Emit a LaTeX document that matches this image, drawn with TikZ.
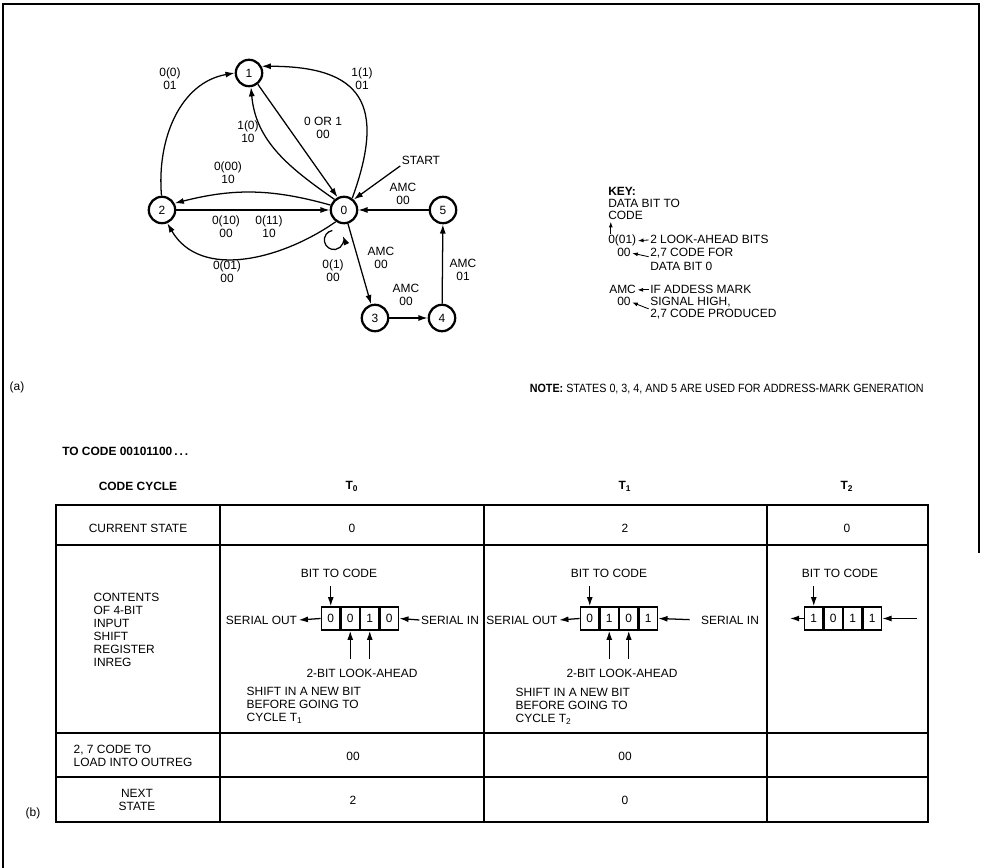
\documentclass[tikz,border=0pt]{standalone}
\usepackage{fontspec}
\setmainfont{Liberation Sans}
\newfontfamily\narrowfont[FakeStretch=0.9]{Liberation Sans}
\usetikzlibrary{arrows.meta,positioning}
\newcommand{\dgfont}{\fontsize{8.5}{9.2}\selectfont}

\begin{document}
\begin{tikzpicture}[x=0.025cm,y=0.025cm,
    state/.style={draw,circle,line width=1.6pt,minimum size=0.66cm,inner sep=0pt,font=\dgfont},
    lbl/.style={align=center,inner sep=1pt,font=\dgfont},
    txt/.style={anchor=base west,inner sep=0pt,font=\dgfont},
    hdr/.style={inner sep=1pt,font=\dgfont\bfseries},
    arrow/.style={-{Latex[length=2.3mm,width=1.5mm]},line width=0.9pt},
    karrow/.style={-{Latex[length=1.4mm,width=1mm]},line width=0.6pt,shorten <=1pt,shorten >=1pt},
    cell/.style={draw,line width=1.1pt,minimum width=0.465cm,minimum height=0.575cm,inner sep=0pt,font=\dgfont},
    tline/.style={line width=1.5pt}
  ]
  \useasboundingbox (0,0) rectangle (981,868);
  % frame
  \draw[line width=0.8pt] (3,0) -- (3,864) -- (979,864) -- (979,315);

  % (a) state diagram
  \node[state] (n1) at (249,795) {1};
  \node[state] (n2) at (162,658) {2};
  \node[state] (n0) at (344,658) {0};
  \node[state] (n5) at (443,658) {5};
  \node[state] (n3) at (375,550) {3};
  \node[state] (n4) at (442,550) {4};
  \draw[arrow] (n2.92) to[out=95,in=190] (n1.west);
  \draw[arrow] (n0.55) to[out=70,in=0,looseness=1.6] (n1.28);
  \draw[arrow] (n1.-52) -- (n0.117);
  \draw[arrow] (n0.132) to[out=145,in=-85] (n1.-82);
  \draw[arrow] (n0.160) to[bend right=15] (n2.28);
  \draw[arrow] (n2) -- (n0);
  \draw[arrow] (n0.-125) to[out=-145,in=-60] (n2.-68);
  \draw[arrow] (n5) -- (n0);
  \draw[arrow] (n0) -- (n3);
  \draw[arrow] (n3) -- (n4);
  \draw[arrow] (n4) -- (n5);
  \coordinate (lp) at (332.3,637.5);
  \draw[arrow] (lp) arc[start angle=100,end angle=385,radius=0.24cm];
  \node[lbl] (start) at (421,708) {START};
  \draw[arrow] (start.south west) -- (n0.47);
  \node[lbl] (e21) at (170,789) {0(0)\\01};
  \node[lbl] (e01a) at (362,789) {1(1)\\01};
  \node[lbl] (e01b) at (248,736) {1(0)\\10};
  \node[lbl] (e10) at (323,740) {0 OR 1\\00};
  \node[lbl] (e02a) at (228,695) {0(00)\\10};
  \node[lbl] (e20a) at (226,641) {0(10)\\00};
  \node[lbl] (e20b) at (269,641) {0(11)\\10};
  \node[lbl] (e02b) at (227,596) {0(01)\\00};
  \node[lbl] (e00) at (333,597) {0(1)\\00};
  \node[lbl] (e50) at (403,674) {AMC\\00};
  \node[lbl] (e03) at (381,610) {AMC\\00};
  \node[lbl] (e34) at (406,573) {AMC\\00};
  \node[lbl] (e45) at (463,598) {AMC\\01};

  % key
  \node[txt,font=\dgfont\bfseries] (kkey) at (608,672) {KEY:};
  \node[txt] (kdata) at (608,660) {DATA BIT TO};
  \node[txt] (kcode) at (608,648) {CODE};
  \node[txt] (k001) at (608,624) {0(01)};
  \node[txt] (klook) at (650,624) {2 LOOK-AHEAD BITS};
  \node[txt] (k00a) at (617,611) {00};
  \node[txt] (kcf) at (650,611) {2,7 CODE FOR};
  \node[txt] (kdb) at (650,597) {DATA BIT 0};
  \node[txt] (kamc) at (609,574) {AMC};
  \node[txt] (kif) at (650,574) {IF ADDESS MARK};
  \node[txt] (k00b) at (617,562) {00};
  \node[txt] (ksig) at (650,562) {SIGNAL HIGH,};
  \node[txt] (kprod) at (650,550) {2,7 CODE PRODUCED};
  \draw[karrow] ([xshift=0.07cm]k001.north west) -- ([xshift=0.07cm]kcode.south west);
  \draw[karrow] (klook.west) -- (k001.east);
  \draw[karrow] (kcf.base west) -- (k00a.east);
  \draw[karrow] (kif.west) -- (kamc.east);
  \draw[karrow] (kprod.north west) -- (k00b.east);

  \node[lbl] (pa) at (17,481) {(a)};
  \node[txt,anchor=base east,font=\dgfont\narrowfont] (note) at (924,475) {\textbf{NOTE:} STATES 0, 3, 4, AND 5 ARE USED FOR ADDRESS-MARK GENERATION};

  % (b) table
  \node[txt,font=\dgfont\bfseries] (tocode) at (62,412) {TO CODE 00101100\,.\,.\,.};
  \draw[tline] (56,46) rectangle (928,363);
  \foreach \x in {220,484,767} \draw[tline] (\x,46) -- (\x,363);
  \foreach \y in {323,135,91} \draw[tline] (56,\y) -- (928,\y);
  \node[hdr] (hcyc) at (138,382) {CODE CYCLE};
  \node[hdr] (ht0) at (352,382) {T\textsubscript{0}};
  \node[hdr] (ht1) at (625,382) {T\textsubscript{1}};
  \node[hdr] (ht2) at (847,382) {T\textsubscript{2}};
  \node[lbl] (cur) at (138,340) {CURRENT STATE};
  \node[lbl] (cur0) at (352,340) {0};
  \node[lbl] (cur1) at (625,340) {2};
  \node[lbl] (cur2) at (847,340) {0};
  \node[lbl,align=left,anchor=west] (cont) at (92,238) {CONTENTS\\OF 4-BIT\\INPUT\\SHIFT\\REGISTER\\INREG};

  % register at T0
  \foreach \v [count=\i] in {0,0,1,0}
    \node[cell] (ra\i) at ({311.25+19.5*\i},249.5) {\v};
  \node[lbl] (bta) at (339,295) {BIT TO CODE};
  \node[lbl] (souta) at (261.5,248) {SERIAL OUT};
  \node[lbl] (sina) at (450,248) {SERIAL IN};
  \node[lbl] (lka) at (362,195) {2-BIT LOOK-AHEAD};
  \node[lbl,align=left,anchor=west] (shfa) at (245,163) {SHIFT IN A NEW BIT\\BEFORE GOING TO\\CYCLE T\textsubscript{1}};
  \draw[arrow,shorten <=5pt] (bta.south -| ra1) -- (ra1.north);
  \draw[arrow] (ra1.west) -- (souta.east);
  \draw[arrow] (sina.west) -- (ra4.east);
  \draw[arrow,shorten <=6pt] (lka.north -| ra2) -- (ra2.south);
  \draw[arrow,shorten <=6pt] (lka.north -| ra3) -- (ra3.south);

  % register at T1
  \foreach \v [count=\i] in {0,1,0,1}
    \node[cell] (rb\i) at ({570.25+19.5*\i},249.5) {\v};
  \node[lbl] (btb) at (609,295) {BIT TO CODE};
  \node[lbl] (soutb) at (522,248) {SERIAL OUT};
  \node[lbl] (sinb) at (730,248) {SERIAL IN};
  \node[lbl] (lkb) at (622,195) {2-BIT LOOK-AHEAD};
  \node[lbl,align=left,anchor=west] (shfb) at (514,162) {SHIFT IN A NEW BIT\\BEFORE GOING TO\\CYCLE T\textsubscript{2}};
  \draw[arrow,shorten <=5pt] (btb.south -| rb1) -- (rb1.north);
  \draw[arrow] (rb1.west) -- (soutb.east);
  \draw[arrow,shorten <=7pt] (sinb.west) -- (rb4.east);
  \draw[arrow,shorten <=6pt] (lkb.north -| rb2) -- (rb2.south);
  \draw[arrow,shorten <=6pt] (lkb.north -| rb3) -- (rb3.south);

  % register at T2
  \foreach \v [count=\i] in {1,0,1,1}
    \node[cell] (rc\i) at ({794.25+19.5*\i},249.5) {\v};
  \node[lbl] (btc) at (840,295) {BIT TO CODE};
  \coordinate (oc) at (790,249.5);
  \coordinate (ic) at (917,249.5);
  \draw[arrow,shorten <=5pt] (btc.south -| rc1) -- (rc1.north);
  \draw[arrow] (rc1.west) -- (oc);
  \draw[arrow] (ic) -- (rc4.east);

  \node[lbl,align=left,anchor=west] (outl) at (72,112) {2, 7 CODE TO\\LOAD INTO OUTREG};
  \node[lbl] (out0) at (353,112) {00};
  \node[lbl] (out1) at (625,112) {00};
  \node[lbl] (nxt) at (137,68) {NEXT\\STATE};
  \node[lbl] (nxt0) at (353,68) {2};
  \node[lbl] (nxt1) at (625,68) {0};
  \node[lbl] (pb) at (33,55) {(b)};
\end{tikzpicture}
\end{document}
